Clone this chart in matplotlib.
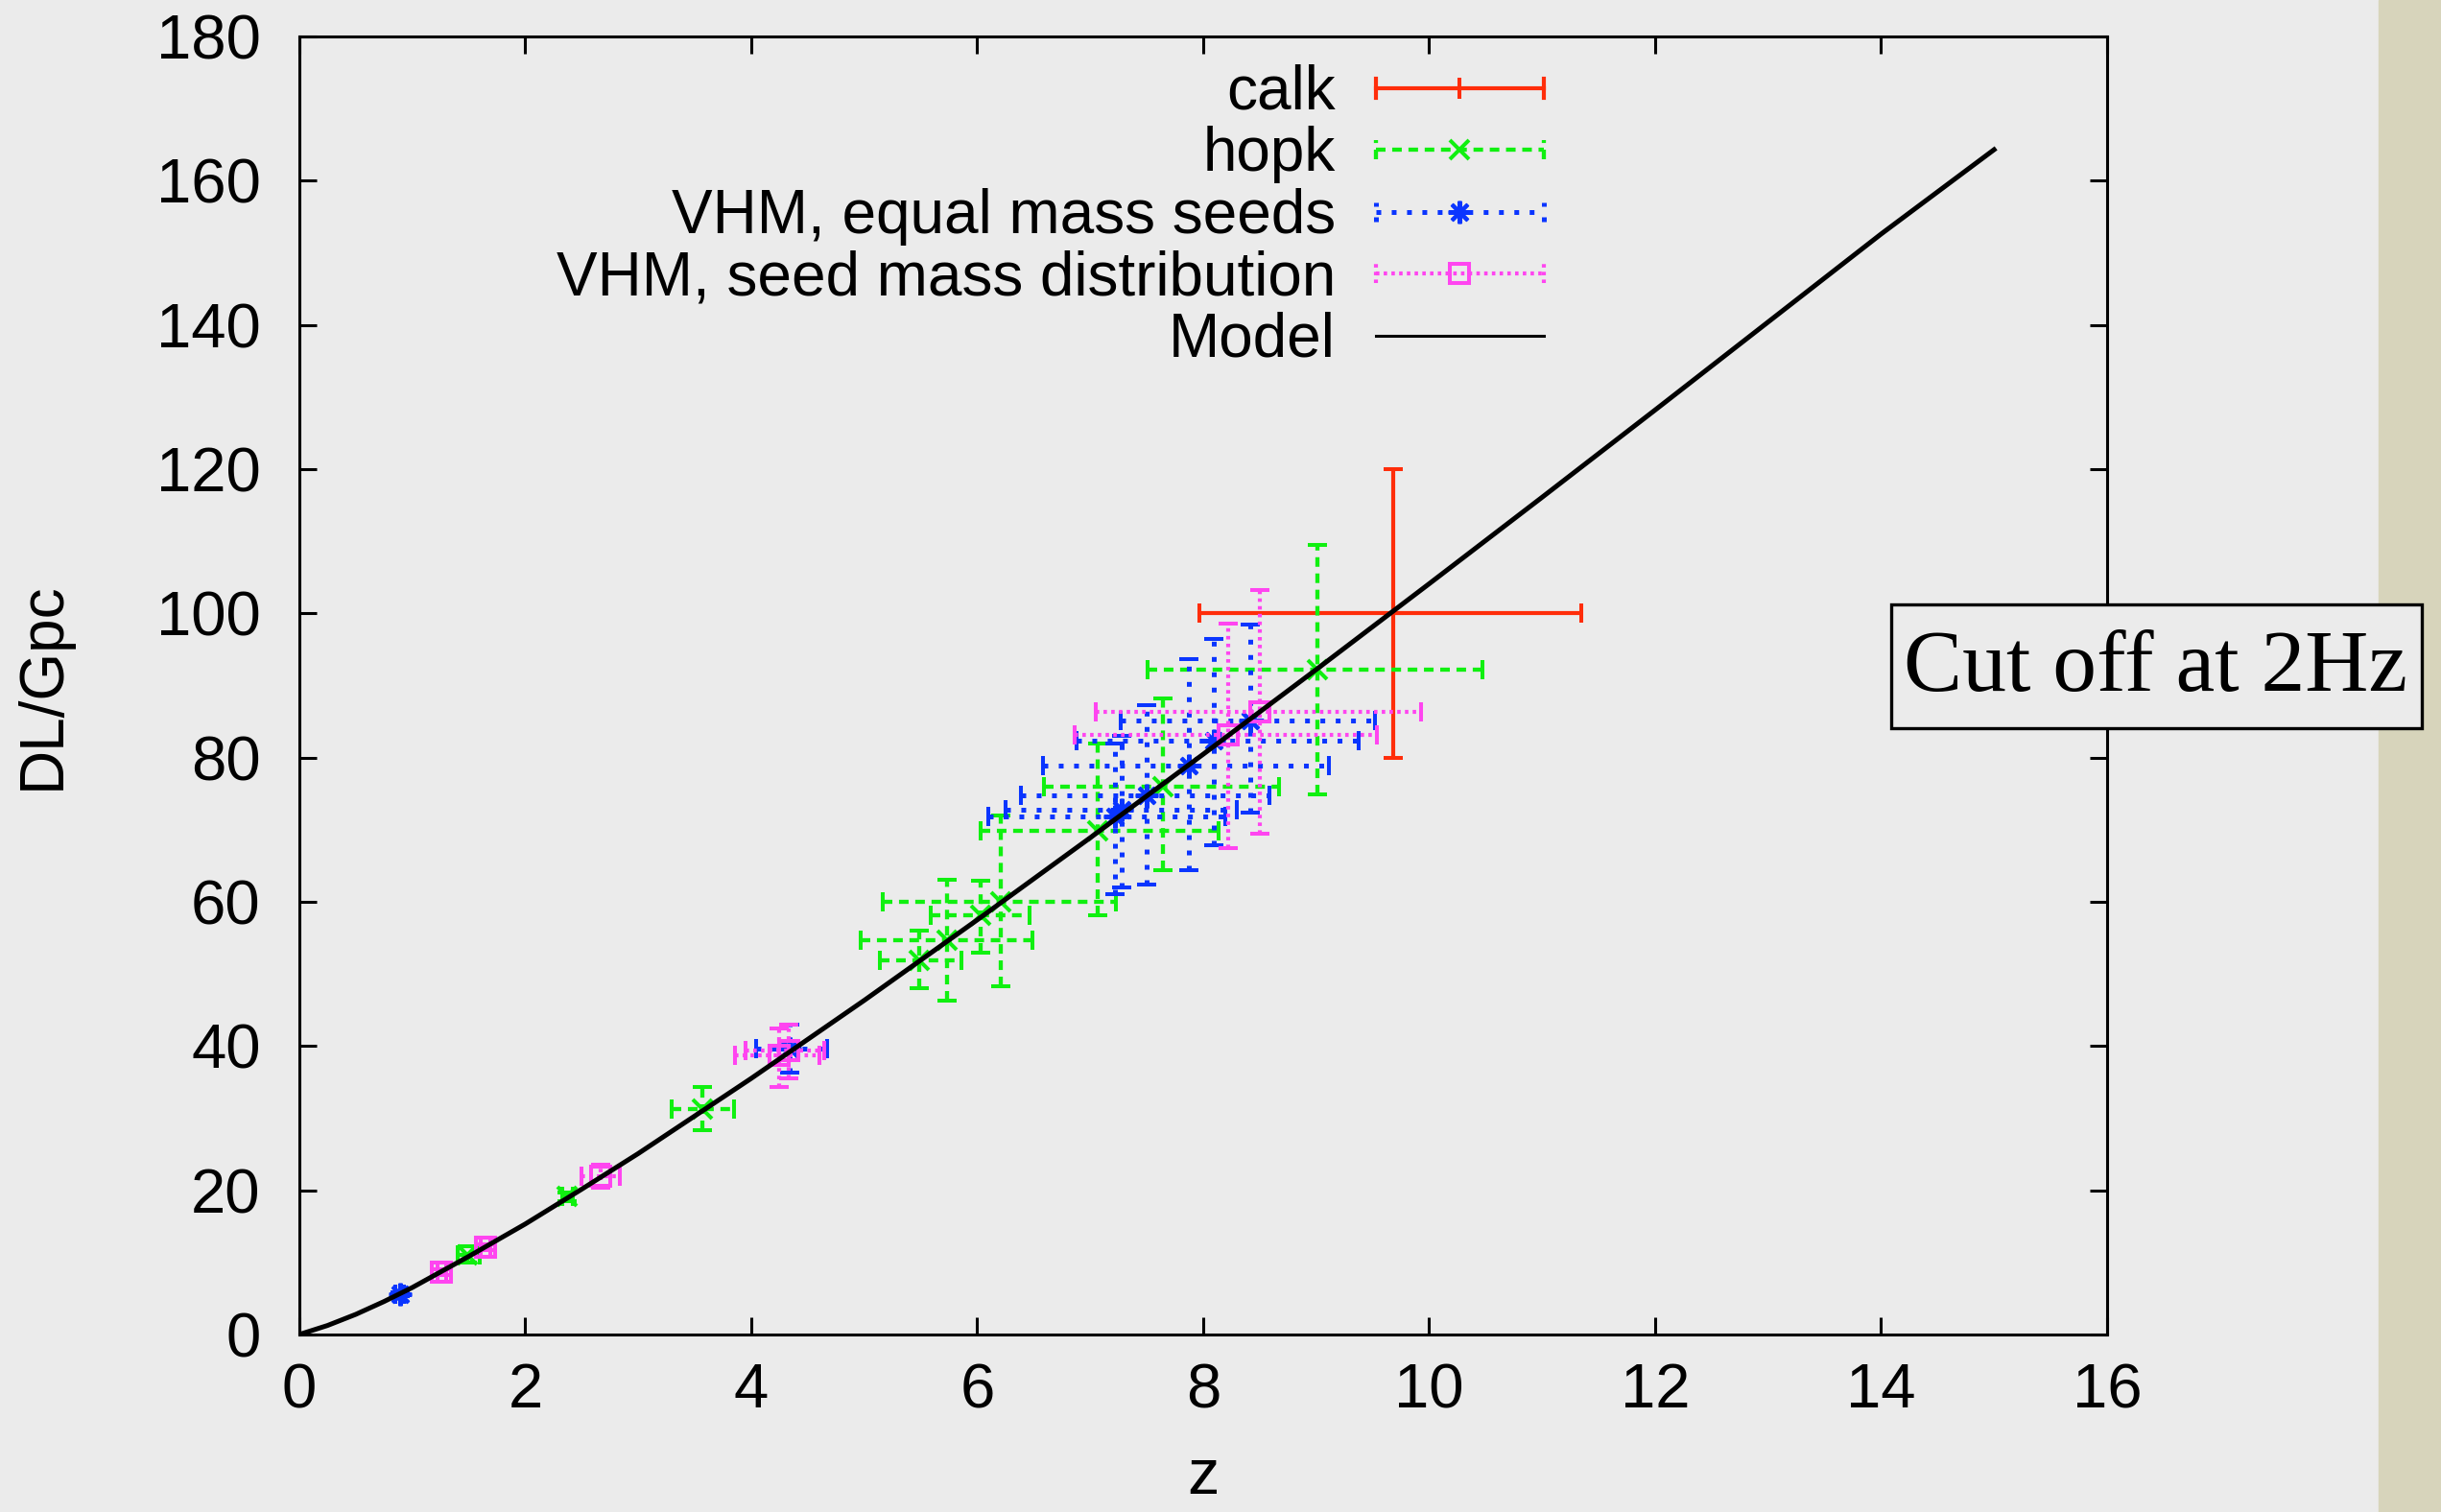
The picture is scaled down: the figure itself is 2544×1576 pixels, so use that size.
import matplotlib
matplotlib.use("Agg")
import matplotlib.pyplot as plt
import numpy as np
from matplotlib.legend_handler import HandlerBase
from matplotlib.lines import Line2D
from matplotlib.patches import Rectangle

plt.rcParams['font.family'] = ['Liberation Sans', 'DejaVu Sans']
plt.rcParams['lines.scale_dashes'] = False

# calk: z, z range, DL, DL range (Gpc)
calk_z = [9.68]
calk_zlo = [7.97]
calk_zhi = [11.35]
calk_dl = [100.0]
calk_dllo = [80.0]
calk_dlhi = [120.0]

# hopk
hopk_z = [1.49, 2.37, 3.57, 5.49, 5.73, 6.03, 6.21, 7.07, 7.64, 9.01]
hopk_zlo = [1.40, 2.33, 3.30, 5.14, 4.97, 5.59, 5.16, 6.03, 6.59, 7.51]
hopk_zhi = [1.60, 2.42, 3.85, 5.86, 6.49, 6.46, 7.23, 8.14, 8.67, 10.47]
hopk_dl = [11.1, 19.1, 31.3, 51.9, 54.7, 58.2, 60.0, 69.8, 76.0, 92.2]
hopk_dllo = [10.0, 18.5, 28.3, 48.0, 46.3, 52.9, 48.3, 58.2, 64.4, 74.9]
hopk_dlhi = [12.3, 19.7, 34.3, 56.0, 63.1, 62.9, 72.0, 81.9, 88.2, 109.5]

# VHM, equal mass seeds
eq_z = [0.89, 4.34, 7.22, 7.28, 7.50, 7.87, 8.09, 8.42]
eq_zlo = [0.85, 4.04, 6.10, 6.25, 6.39, 6.58, 6.88, 7.27]
eq_zhi = [0.93, 4.67, 8.20, 8.30, 8.59, 9.11, 9.38, 9.52]
eq_dl = [5.6, 39.6, 71.9, 72.8, 74.7, 78.9, 82.3, 85.1]
eq_dllo = [5.3, 36.3, 61.0, 62.0, 62.4, 64.4, 67.8, 72.4]
eq_dlhi = [5.9, 43.0, 82.0, 83.0, 87.3, 93.7, 96.4, 98.4]

# VHM, seed mass distribution
dist_z = [1.26, 1.65, 2.67, 4.25, 4.33, 8.22, 8.50]
dist_zlo = [1.22, 1.61, 2.50, 3.86, 3.95, 6.86, 7.05]
dist_zhi = [1.30, 1.69, 2.84, 4.60, 4.65, 9.54, 9.93]
dist_dl = [8.6, 12.1, 22.0, 38.7, 39.4, 83.1, 86.4]
dist_dllo = [8.2, 11.7, 20.3, 34.3, 35.5, 67.5, 69.5]
dist_dlhi = [9.0, 12.5, 23.6, 42.5, 43.0, 98.6, 103.2]

# model luminosity distance
model_z = [0, 0.25, 0.5, 0.75, 1, 1.5, 2, 2.5, 3, 4, 5, 6, 7, 8, 9, 10,
           11, 12, 13, 14, 15]
model_dl = [0, 1.25, 2.79, 4.57, 6.51, 10.83, 15.32, 20.15, 25.09, 35.51,
            46.33, 57.49, 68.88, 80.46, 92.2, 104.1, 116.1, 128.2, 140.4,
            152.6, 164.3]

RED = '#ff2d0a'
GREEN = '#10f010'
BLUE = '#0a35ff'
PINK = '#ff45f0'
BG = '#ebebeb'

GREEN_LS = (0, (7.2, 5.0))
BLUE_LS = (0, (3.6, 7.9))
PINK_LS = (0, (2.6, 3.2))

fig = plt.figure(figsize=(25.44, 15.76), dpi=100, facecolor=BG)
ax = fig.add_axes([0.1226, 0.1174, 0.7406, 0.8585], facecolor=BG)

# textured side strip
fig.add_artist(Rectangle((2479 / 2544, 0), 65 / 2544, 1,
                         transform=fig.transFigure, color='#d7d4bb', zorder=0))


def draw(z, zlo, zhi, dl, dllo, dlhi, color, ls, marker, ms, mfc, lw, zo):
    xerr = [np.subtract(z, zlo), np.subtract(zhi, z)]
    yerr = [np.subtract(dl, dllo), np.subtract(dlhi, dl)]
    eb = ax.errorbar(z, dl, xerr=xerr, yerr=yerr, linestyle='none',
                     marker=marker, ms=ms, mfc=mfc, mec=color, mew=2.9,
                     ecolor=color, elinewidth=lw, capsize=7.2, capthick=lw,
                     zorder=zo)
    for lc in eb[2]:
        lc.set_linestyle(ls)
    return eb


e_calk = draw(calk_z, calk_zlo, calk_zhi, calk_dl, calk_dllo, calk_dlhi,
              RED, '-', '+', 16, RED, 3.0, 3)
e_hopk = draw(hopk_z, hopk_zlo, hopk_zhi, hopk_dl, hopk_dllo, hopk_dlhi,
              GREEN, GREEN_LS, 'x', 15, GREEN, 3.1, 4)
e_eq = draw(eq_z, eq_zlo, eq_zhi, eq_dl, eq_dllo, eq_dlhi,
            BLUE, BLUE_LS, (8, 2, 0), 17, BLUE, 3.6, 5)
e_dist = draw(dist_z, dist_zlo, dist_zhi, dist_dl, dist_dllo, dist_dlhi,
              PINK, PINK_LS, 's', 15, 'none', 3.0, 6)
model_line, = ax.plot(model_z, model_dl, color='black', lw=3.6, zorder=7)

ax.set_xlim(0, 16)
ax.set_ylim(0, 180)
ax.set_xticks(np.arange(0, 17, 2))
ax.set_yticks(np.arange(0, 181, 20))
ax.tick_params(direction='in', length=13, width=2.2, top=True, right=True,
               labelsize=47)
ax.tick_params(axis='x', pad=21)
ax.tick_params(axis='y', pad=29)
for s in ax.spines.values():
    s.set_linewidth(2.2)

ax.set_xlabel('z', fontsize=48)
ax.set_ylabel('DL/Gpc', fontsize=46)
ax.xaxis.set_label_coords(0.5, -0.087)
ax.yaxis.set_label_coords(-0.126, 0.5)


class KeySample(HandlerBase):
    """gnuplot-style key entry: line with end caps and a point in the middle"""

    def __init__(self, color, ls, marker=None, ms=0, mfc='none', caps=True,
                 lw=2.9):
        super().__init__()
        self.color, self.ls, self.marker = color, ls, marker
        self.ms, self.mfc, self.caps, self.lw = ms, mfc, caps, lw

    def create_artists(self, legend, orig_handle, xdescent, ydescent,
                       width, height, fontsize, trans):
        y = (height - ydescent) / 2
        x0, x1 = -xdescent, width - xdescent
        arts = [Line2D([x0, x1], [y, y], color=self.color, lw=self.lw,
                       linestyle=self.ls)]
        if self.caps:
            for xc in (x0, x1):
                arts.append(Line2D([xc, xc], [y - 7.2, y + 7.2],
                                   color=self.color, lw=self.lw,
                                   linestyle=self.ls))
        if self.marker is not None:
            arts.append(Line2D([(x0 + x1) / 2], [y], marker=self.marker,
                               ms=self.ms, mfc=self.mfc, mec=self.color,
                               mew=2.9, linestyle='none'))
        for a in arts:
            a.set_transform(trans)
        return arts


handles = [e_calk, e_hopk, e_eq, e_dist, model_line]
labels = ['calk', 'hopk', 'VHM, equal mass seeds',
          'VHM, seed mass distribution', 'Model']
hmap = {
    e_calk: KeySample(RED, '-', '+', 16, RED, lw=3.0),
    e_hopk: KeySample(GREEN, GREEN_LS, 'x', 15, GREEN, lw=3.1),
    e_eq: KeySample(BLUE, BLUE_LS, (8, 2, 0), 17, BLUE, lw=3.6),
    e_dist: KeySample(PINK, PINK_LS, 's', 15, 'none', lw=3.0),
    model_line: KeySample('black', '-', caps=False, lw=2.2),
}
ax.legend(handles, labels, handler_map=hmap, loc='upper right',
          bbox_to_anchor=(1609 / 2544, 0.9575), bbox_transform=fig.transFigure,
          frameon=False, markerfirst=False, fontsize=46, handlelength=2.74,
          handletextpad=0.66, labelspacing=0.07, borderpad=0,
          borderaxespad=0)

# framed annotation, partly over the side strip
fig.add_artist(Rectangle((1971 / 2544, 1 - 759 / 1576), 553 / 2544,
                         129 / 1576, transform=fig.transFigure, fc=BG,
                         ec='black', lw=2.4, zorder=4))
fig.text(2247 / 2544, 1 - 698 / 1576, 'Cut off at 2Hz', fontsize=66,
         family=['Liberation Serif', 'DejaVu Serif'], ha='center',
         va='center', zorder=5)

fig.savefig('out.png', dpi=100, facecolor=BG)
